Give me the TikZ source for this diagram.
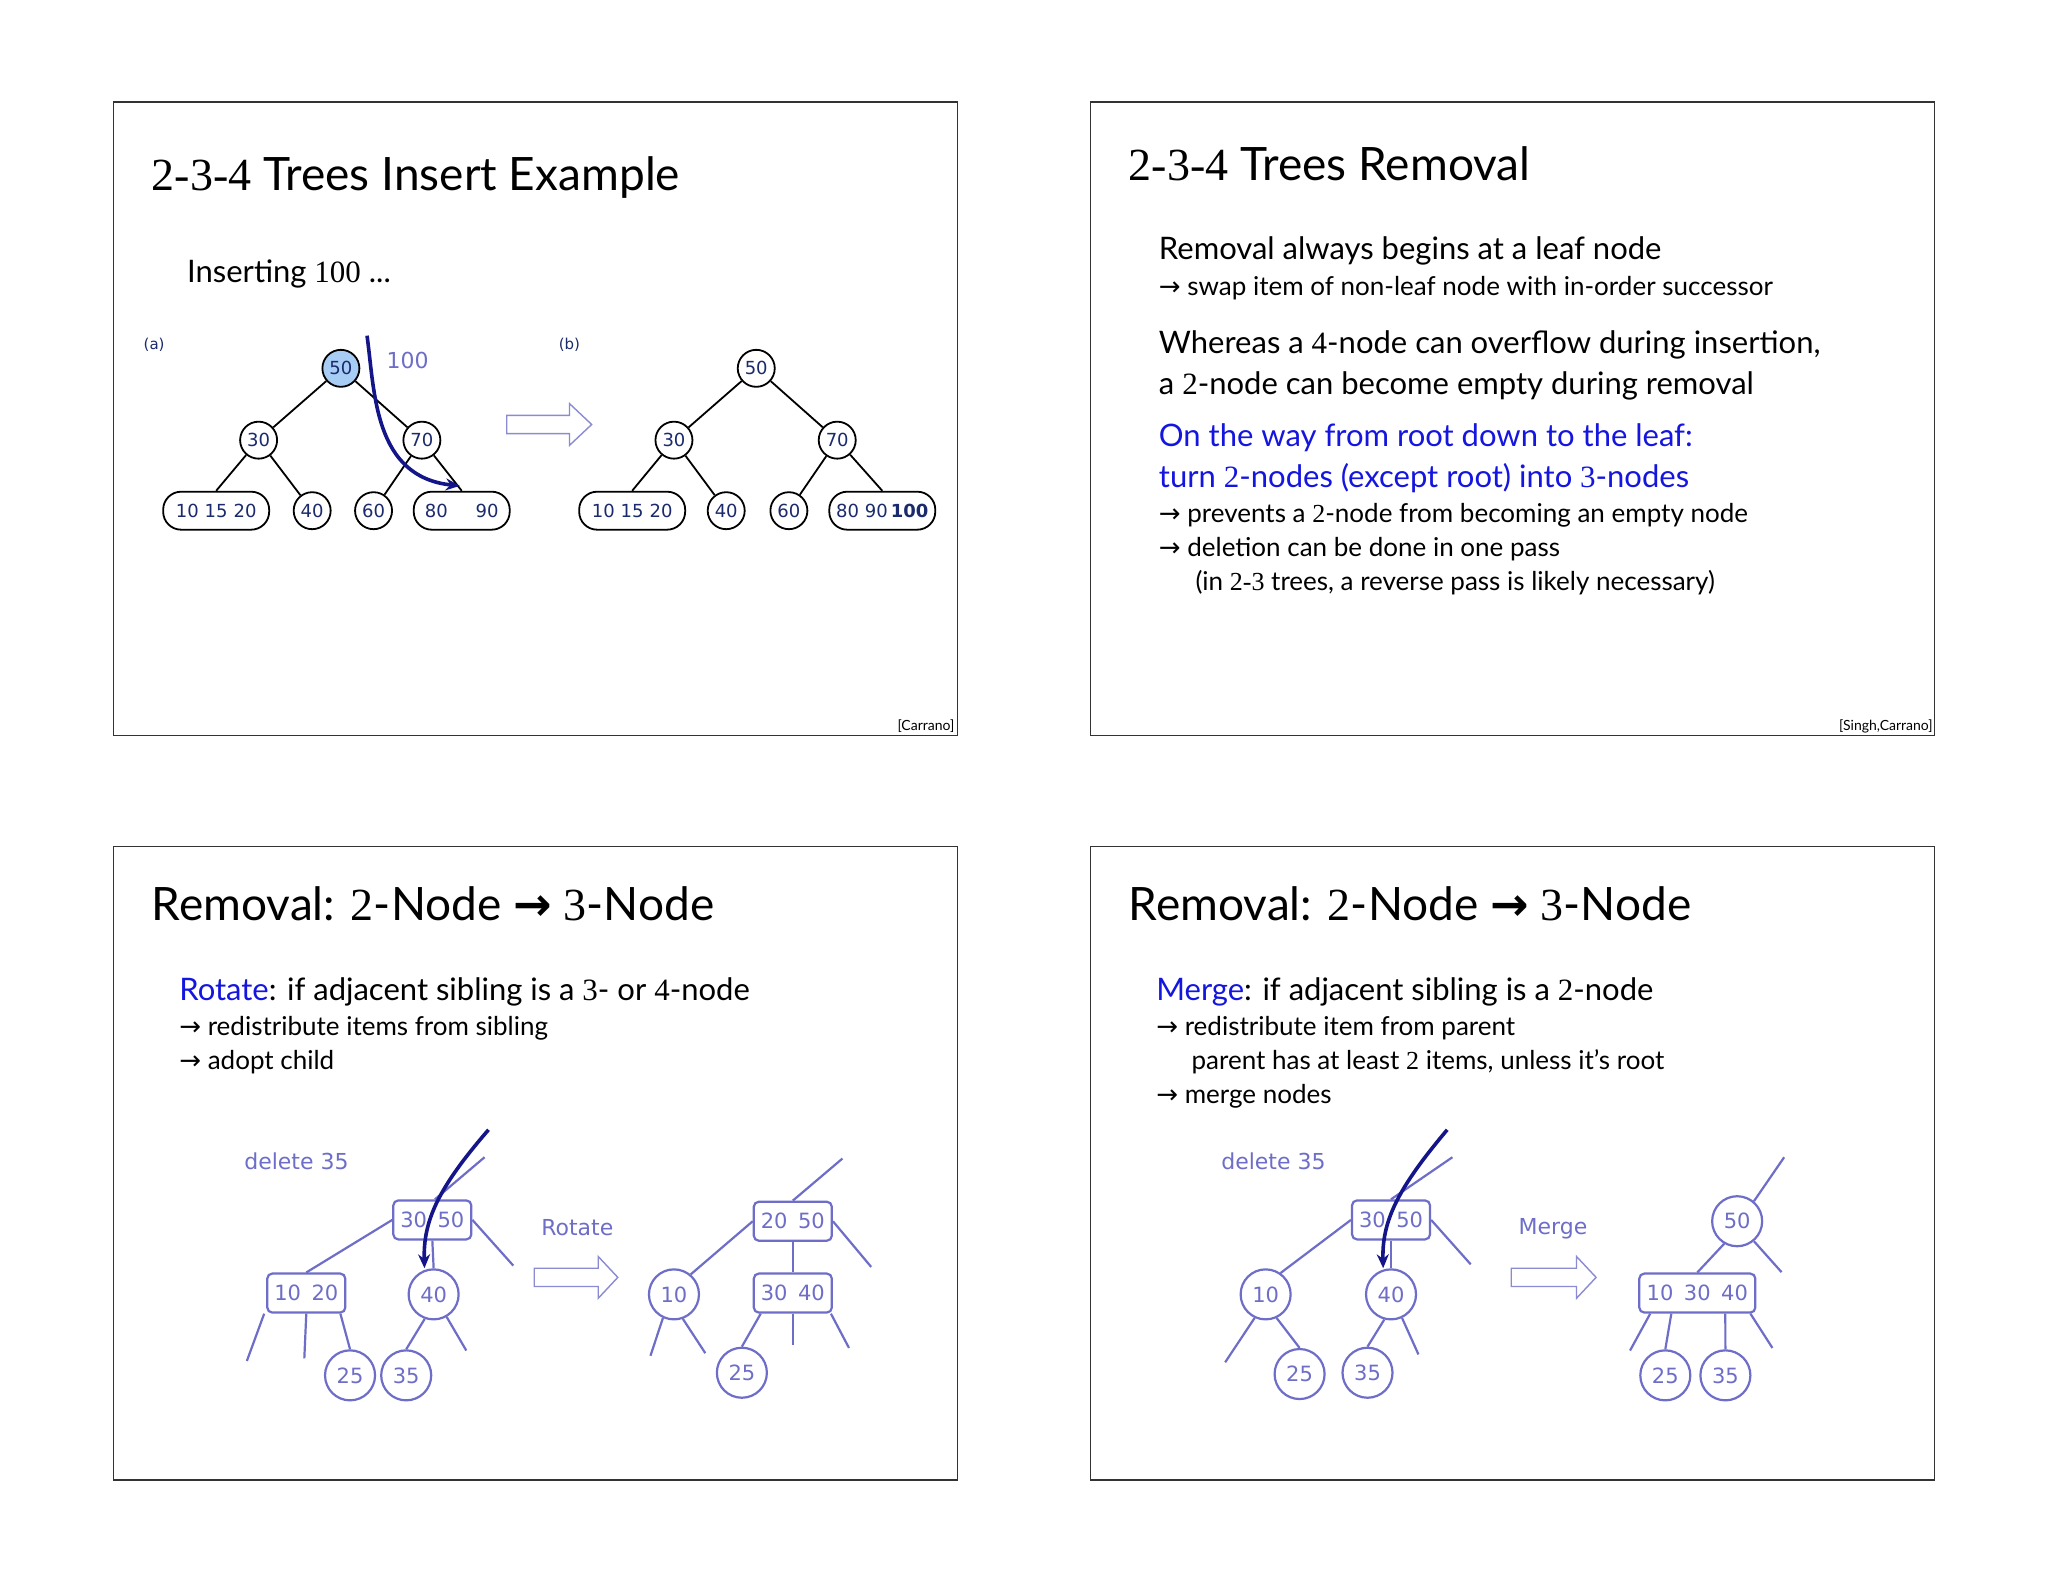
\documentclass[tikz,border=0pt]{standalone}
\usepackage{fontspec}
\setmainfont{Lato}
\newfontfamily\numf{Liberation Serif}
\newfontfamily\sym{DejaVu Sans}
\newfontfamily\tf{DejaVu Sans}
\usetikzlibrary{arrows.meta}
\definecolor{navy}{HTML}{1A2A6C}
\definecolor{dnavy}{HTML}{15158A}
\definecolor{lav}{HTML}{6E6EC8}
\definecolor{bl}{HTML}{1515E0}
\definecolor{rootfill}{HTML}{A8CDF5}
\newcommand{\N}[1]{{\numf #1}}
\newcommand{\ar}{{\sym →}}
\tikzset{
 panel/.style={draw=black!80,line width=0.8pt},
 ttl/.style={anchor=base west,font=\fontsize{23}{26}\selectfont,inner sep=0},
 bodyA/.style={anchor=base west,font=\fontsize{15.5}{18}\selectfont,inner sep=0},
 bodyB/.style={anchor=base west,font=\fontsize{13}{16}\selectfont,inner sep=0},
 cite/.style={anchor=base east,font=\fontsize{7}{8}\selectfont,inner sep=0},
 tc/.style={circle,draw=black,line width=0.9pt,inner sep=0,minimum size=18.5pt,text=navy,font=\tf\fontsize{9}{10}\selectfont},
 tb/.style={rounded corners=9pt,draw=black,line width=0.9pt,inner sep=0,minimum height=19pt,text=navy,font=\tf\fontsize{9}{10}\selectfont},
 te/.style={draw=black,line width=0.9pt},
 lc/.style={circle,draw=lav,line width=1.1pt,inner sep=0,minimum size=25pt,text=lav,font=\tf\fontsize{10.5}{12}\selectfont},
 lb/.style={rounded corners=2.5pt,draw=lav,line width=1.1pt,inner sep=0,minimum height=19.5pt,text=lav,font=\tf\fontsize{10.5}{12}\selectfont},
 le/.style={draw=lav,line width=1.1pt},
 ll/.style={text=lav,font=\tf\fontsize{11}{13}\selectfont,inner sep=0},
 hol/.style={draw=lav!80,line width=0.7pt,fill=white},
 darr/.style={draw=dnavy,line width=1.8pt,-{Stealth[length=7pt,width=6pt]}}
}
\begin{document}
\begin{tikzpicture}[x=0.653pt,y=-0.653pt]
\useasboundingbox (0,0) rectangle (1568,1211.3);
\fill[white] (0,0) rectangle (1568,1211.3);
% panels
\draw[panel] (87,78) rectangle (733,563);
\draw[panel] (835,78) rectangle (1481,563);
\draw[panel] (87,648) rectangle (733,1133);
\draw[panel] (835,648) rectangle (1481,1133);

% ===== Panel 1 =====
\node[ttl] (t1) at (116,146) {\N{2-3-4} Trees Insert Example};
\node[bodyA] (i1) at (143,216) {Inserting \N{100} ...};
\node[cite] (c1) at (731,559) {[Carrano]};
\node[ll,text=navy,font=\tf\fontsize{7.5}{9}\selectfont] (la) at (118,264) {(a)};
\node[ll,text=navy,font=\tf\fontsize{7.5}{9}\selectfont] (lbb) at (436,264) {(b)};
% tree a
\node[tc,fill=rootfill] (a50) at (261,282) {50};
\node[tc] (a30) at (198,337) {30};
\node[tc] (a70) at (323,337) {70};
\node[tb,minimum width=53pt] (a1) at (165.5,391) {10\,\,15\,\,20};
\node[tc] (a40) at (239,391) {40};
\node[tc] (a60) at (286,391) {60};
\node[tb,minimum width=48pt] (a8) at (353.5,391) {80\hspace{14pt}90};
\draw[te] (a50)--(a30) (a50)--(a70) (a30)--(a1.north) (a30)--(a40) (a70)--(a60) (a70)--(a8.north);
\node[ll,font=\tf\fontsize{11}{13}\selectfont] (h100) at (312,276) {100};
\coordinate (s1) at (281,257);
\coordinate (e1) at (352,372);
\draw[darr] (s1) .. controls (287,300) and (286,365) .. (e1);
% hollow arrow
\draw[hol] (388,318)--(436,318)--(436,309)--(453,325)--(436,341)--(436,332)--(388,332)--cycle;
% tree b
\node[tc] (b50) at (579,282) {50};
\node[tc] (b30) at (516,337) {30};
\node[tc] (b70) at (641,337) {70};
\node[tb,minimum width=53pt] (b1) at (484,391) {10\,\,15\,\,20};
\node[tc] (b40) at (556,391) {40};
\node[tc] (b60) at (604,391) {60};
\node[tb,minimum width=53pt] (b8) at (675.5,391) {80\,\,90\,\textbf{100}};
\draw[te] (b50)--(b30) (b50)--(b70) (b30)--(b1.north) (b30)--(b40) (b70)--(b60) (b70)--(b8.north);

% ===== Panel 2 =====
\node[ttl] (t2) at (864,138) {\N{2-3-4} Trees Removal};
\node[bodyA] (r1) at (887,199) {Removal always begins at a leaf node};
\node[bodyB] (r2) at (887,226) {\ar\ swap item of non-leaf node with in-order successor};
\node[bodyA] (r3) at (887,271) {Whereas a \N{4}-node can overflow during insertion,};
\node[bodyA] (r4) at (887,302) {a \N{2}-node can become empty during removal};
\node[bodyA,text=bl] (r5) at (887,342) {On the way from root down to the leaf:};
\node[bodyA,text=bl] (r6) at (887,373) {turn \N{2}-nodes (except root) into \N{3}-nodes};
\node[bodyB] (r7) at (887,400) {\ar\ prevents a \N{2}-node from becoming an empty node};
\node[bodyB] (r8) at (887,426) {\ar\ deletion can be done in one pass};
\node[bodyB] (r9) at (915,452) {(in \N{2-3} trees, a reverse pass is likely necessary)};
\node[cite] (c2) at (1480,559) {[Singh,Carrano]};

% ===== Panel 3 =====
\node[ttl] (t3) at (116,705) {Removal: \N{2}-Node {\sym\bfseries →} \N{3}-Node};
\node[bodyA] (p1) at (137,766) {{\color{bl}Rotate}: if adjacent sibling is a \N{3}- or \N{4}-node};
\node[bodyB] (p2) at (137,793) {\ar\ redistribute items from sibling};
\node[bodyB] (p3) at (137,819) {\ar\ adopt child};
\node[ll] (d1) at (227,889) {delete 35};
\node[lb,minimum width=39pt] (q3050) at (331,934) {30\,\,\,50};
\node[lb,minimum width=39pt] (q1020) at (234.5,990) {10\,\,\,20};
\node[lc] (q40) at (332,991) {40};
\node[lc] (q25) at (268,1053) {25};
\node[lc] (q35) at (311,1053) {35};
\coordinate (qt) at (371,886); \coordinate (qr) at (393,969);
\coordinate (qa) at (189,1042); \coordinate (qb) at (233,1040);
\coordinate (qc) at (357,1034);
\draw[le] (q3050.north)+(2,0) -- (qt);
\draw[le] (q3050.east) -- (qr);
\draw[le] (q3050.west) -- (q1020.north);
\draw[le] (q3050.south) -- (q40.north);
\draw[le] ([xshift=-1]q1020.south west) -- (qa);
\draw[le] (q1020.south) -- (qb);
\draw[le] ([xshift=-3]q1020.south east) -- (q25.north);
\draw[le] (q40.-110) -- (q35.north);
\draw[le] (q40.-60) -- (qc);
\coordinate (qs) at (374,865);
\draw[darr] (qs) .. controls (335,910) and (324,935) .. (q40.north-|325,0);
\node[ll,font=\tf\fontsize{11}{13}\selectfont] (rot) at (442,940) {Rotate};
\draw[hol] (409,971)--(458,971)--(458,962)--(473,978)--(458,994)--(458,985)--(409,985)--cycle;
\node[lb,minimum width=39pt] (w2050) at (607,935) {20\,\,\,50};
\node[lc] (w10) at (516,991) {10};
\node[lb,minimum width=39pt] (w3040) at (607,990) {30\,\,\,40};
\node[lc] (w25) at (568,1051) {25};
\coordinate (wt) at (645,887); \coordinate (wr) at (667,970);
\coordinate (wa) at (498,1038); \coordinate (wb) at (540,1036);
\coordinate (wm) at (607,1030); \coordinate (wc) at (650,1032);
\draw[le] (w2050.north) -- (wt);
\draw[le] (w2050.east) -- (wr);
\draw[le] (w2050.west) -- (w10.50);
\draw[le] (w2050.south) -- (w3040.north);
\draw[le] (w10.-115) -- (wa);
\draw[le] (w10.-70) -- (wb);
\draw[le] ([xshift=4]w3040.south west) -- (w25.north);
\draw[le] (w3040.south) -- (wm);
\draw[le] ([xshift=-1]w3040.south east) -- (wc);

% ===== Panel 4 =====
\node[ttl] (t4) at (864,705) {Removal: \N{2}-Node {\sym\bfseries →} \N{3}-Node};
\node[bodyA] (m1) at (885,766) {{\color{bl}Merge}: if adjacent sibling is a \N{2}-node};
\node[bodyB] (m2) at (885,793) {\ar\ redistribute item from parent};
\node[bodyB] (m3) at (912,819) {parent has at least \N{2} items, unless it’s root};
\node[bodyB] (m4) at (885,845) {\ar\ merge nodes};
\node[ll] (d2) at (975,889) {delete 35};
\node[lb,minimum width=39pt] (u3050) at (1065,934) {30\,\,\,50};
\node[lc] (u10) at (969,991) {10};
\node[lc] (u40) at (1065,991) {40};
\node[lc] (u25) at (995,1052) {25};
\node[lc] (u35) at (1047,1051) {35};
\coordinate (ut) at (1112,886); \coordinate (ur) at (1126,968);
\coordinate (ua) at (938,1043); \coordinate (uc) at (1086,1037);
\draw[le] (u3050.north) -- (ut);
\draw[le] (u3050.east) -- (ur);
\draw[le] (u3050.west) -- (u10.55);
\draw[le] (u3050.south) -- (u40.north);
\draw[le] (u10.-115) -- (ua);
\draw[le] (u10.-65) -- (u25.north);
\draw[le] (u40.-105) -- (u35.north);
\draw[le] (u40.-65) -- (uc);
\coordinate (us) at (1108,865);
\draw[darr] (us) .. controls (1070,910) and (1058,935) .. (u40.north-|1059,0);
\node[ll,font=\tf\fontsize{11}{13}\selectfont] (mer) at (1189,941) {Merge};
\draw[hol] (1157,971)--(1207,971)--(1207,962)--(1222,978)--(1207,994)--(1207,985)--(1157,985)--cycle;
\node[lc] (v50) at (1330,935) {50};
\node[lb,minimum width=58pt] (v103040) at (1299.5,990) {10\,\,\,30\,\,\,40};
\node[lc] (v25) at (1275,1053) {25};
\node[lc] (v35) at (1321,1053) {35};
\coordinate (vt) at (1366,886); \coordinate (vr) at (1364,974);
\coordinate (va) at (1248,1034); \coordinate (vd) at (1357,1032);
\draw[le] (v50.50) -- (vt);
\draw[le] (v50.-50) -- (vr);
\draw[le] (v50.-120) -- (v103040.north);
\draw[le] ([xshift=6]v103040.south west) -- (va);
\draw[le] ([xshift=-13]v103040.south) -- (v25.north);
\draw[le] ([xshift=14]v103040.south) -- (v35.north);
\draw[le] ([xshift=-3]v103040.south east) -- (vd);
\end{tikzpicture}
\end{document}
